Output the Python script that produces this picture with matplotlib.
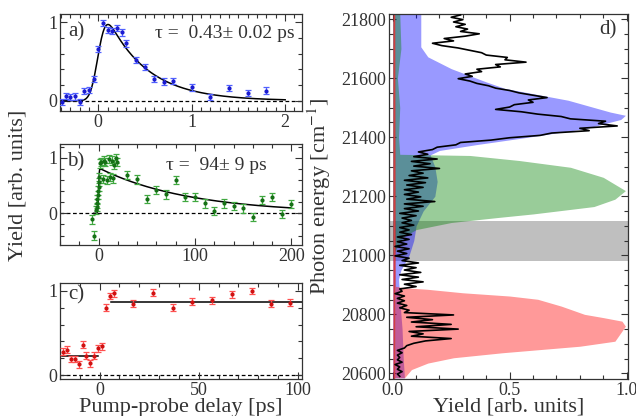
import math
import numpy as np
import matplotlib
matplotlib.use('Agg')
import matplotlib.pyplot as plt
from matplotlib.ticker import MultipleLocator, FormatStrFormatter

plt.rcParams['font.family'] = ['Liberation Serif', 'DejaVu Serif']
plt.rcParams['mathtext.fontset'] = 'stix'

# ---- panel a: fast decay (ps)
a_delay = [-0.39, -0.35, -0.30, -0.25, -0.20, -0.15, -0.10, -0.05, 0.0, 0.05, 0.10,
           0.15, 0.20, 0.25, 0.30, 0.40, 0.50, 0.60, 0.70, 0.80, 1.0, 1.2, 1.4, 1.6, 1.8]
a_yield = [-0.02, 0.06, 0.05, 0.055, -0.02, 0.12, 0.14, 0.28, 0.66, 0.99, 0.90,
           0.89, 0.93, 0.87, 0.73, 0.52, 0.43, 0.28, 0.245, 0.255, 0.17, 0.05, 0.16, 0.10, 0.13]
a_err = 0.04
a_fit = dict(amp=1.32, t0=0.0, sigma=0.065, tau=0.43)

# ---- panel b: slow decay (ps)
b_delay = [-6.5, -4.9, -2.4, -2.0, -1.6, -1.2, -0.8, -0.4, 0.0, 0.4, 0.8,
           1.5, 3.0, 4.5, 5.5, 7.0, 8.5, 10.5, 12.0, 13.5, 15.0, 16.3, 18.0, 19.5,
           30, 40, 50, 60, 70, 80, 90, 100, 110, 120, 130, 140, 150, 160, 170, 180, 190, 200]
b_yield = [-0.11, -0.40, 0.06, 0.12, 0.18, 0.25, 0.33, 0.41, 0.48, 0.57, 0.66,
           0.90, 0.93, 0.62, 0.95, 0.92, 0.60, 0.98, 0.66, 0.95, 0.63, 0.88, 0.99, 0.92,
           0.69, 0.61, 0.26, 0.42, 0.34, 0.60, 0.30, 0.30, 0.18, 0.04, 0.18, 0.13, 0.09,
           -0.06, 0.24, 0.30, -0.01, 0.17]
b_err = 0.075
b_fit = dict(amp=0.82, t0=0.0, sigma=0.6, tau=94.0)

# ---- panel c: step (ps)
c_delay = [-18.6, -16.6, -14.6, -12.6, -10.6, -8.6, -6.7, -4.7, -2.7, -0.6, 1.3,
           3.3, 5.0, 7.0, 17.0, 27.0, 36.9, 46.8, 56.6, 66.6, 76.7, 86.4, 96.2]
c_yield = [0.28, 0.30, 0.19, 0.19, 0.13, 0.36, 0.23, 0.14, 0.23, 0.32, 0.34,
           0.80, 0.94, 0.97, 0.85, 0.98, 0.80, 0.87, 0.89, 0.96, 1.00, 0.85, 0.86]
c_err = 0.04
c_levels = [0.23, 0.87]
c_level_ranges = [(-19.0, -1.0), (5.5, 102.0)]

# ---- panel d: spectrum (cm-1) and excitation profiles
spec_start, spec_step = 20590, 8
spec_yield = [
    0.03, 0.02, 0.04, 0.02, 0.03, 0.01, 0.04, 0.02, 0.03, 0.02, 0.04, 0.02, 0.05,
    0.06, 0.09, 0.14, 0.25, 0.08, 0.13, 0.07, 0.28, 0.10, 0.25, 0.08, 0.17, 0.06,
    0.26, 0.05, 0.07, 0.03, 0.06, 0.02, 0.05, 0.02, 0.05, 0.01, 0.04, 0.03, 0.10,
    0.05, 0.13, 0.04, 0.11, 0.03, 0.12, 0.05, 0.10, 0.03, 0.11, 0.04, 0.07, 0.01,
    0.06, 0.02, 0.07, 0.01, 0.06, 0.02, 0.07, 0.02, 0.08, 0.03, 0.07, 0.03, 0.09,
    0.04, 0.08, 0.04, 0.10, 0.03, 0.11, 0.05, 0.13, 0.05, 0.18, 0.06, 0.12, 0.05,
    0.11, 0.05, 0.13, 0.06, 0.14, 0.05, 0.15, 0.07, 0.13, 0.08, 0.20, 0.09, 0.16,
    0.08, 0.19, 0.09, 0.15, 0.11, 0.17, 0.19, 0.27, 0.29, 0.42, 0.50, 0.63, 0.68,
    0.84, 0.80, 0.96, 0.88, 0.91, 0.76, 0.72, 0.62, 0.55, 0.44, 0.50, 0.52, 0.60,
    0.58, 0.66, 0.60, 0.54, 0.50, 0.44, 0.41, 0.36, 0.33, 0.28, 0.34, 0.31, 0.38,
    0.36, 0.46, 0.44, 0.57, 0.48, 0.49, 0.40, 0.38, 0.33, 0.28, 0.21, 0.17, 0.26,
    0.22, 0.31, 0.37, 0.29, 0.32, 0.27, 0.31, 0.26, 0.30, 0.25, 0.29]

blue_energy = [20585, 20650, 20750, 20850, 20920, 20950, 21000, 21050, 21100, 21150,
               21200, 21250, 21300, 21340, 21355, 21375, 21400, 21430, 21460, 21474,
               21485, 21525, 21565, 21587, 21632, 21672, 21706, 21820]
blue_yield = [0.05, 0.045, 0.04, 0.03, 0.025, 0.035, 0.07, 0.09, 0.10, 0.13,
              0.18, 0.19, 0.18, 0.16, 0.20, 0.36, 0.58, 0.83, 0.975, 0.995,
              0.93, 0.75, 0.48, 0.40, 0.25, 0.15, 0.12, 0.12]

green_energy = [21000, 21060, 21087, 21111, 21128, 21140, 21165, 21190, 21219, 21264,
                21298, 21321, 21338, 21342, 21400, 21500, 21600, 21700, 21820]
green_yield = [0.0, 0.04, 0.10, 0.25, 0.45, 0.60, 0.86, 0.95, 0.995, 0.90,
               0.76, 0.54, 0.33, 0.03, 0.025, 0.03, 0.02, 0.035, 0.03]

red_energy = [20585, 20613, 20635, 20653, 20670, 20692, 20709, 20743, 20760, 20777,
              20789, 20800, 20828, 20851, 20862, 20873, 20885, 20890, 20895, 21820]
red_yield = [0.05, 0.08, 0.15, 0.26, 0.47, 0.80, 0.95, 0.98, 0.995, 0.98,
             0.90, 0.82, 0.72, 0.62, 0.50, 0.30, 0.146, 0.05, 0.012, 0.008]

gray_band = (20980, 21117)

ink = '#333333'


def exp_gauss(t, amp, t0, sigma, tau):
    out = []
    for ti in t:
        dt = ti - t0
        arg = (sigma ** 2 / tau - dt) / (sigma * math.sqrt(2))
        out.append(amp / 2 * math.exp(sigma ** 2 / (2 * tau ** 2) - dt / tau) * math.erfc(arg))
    return np.array(out)


def style_axis(ax, xmaj, xmin, ymaj, ymin):
    ax.xaxis.set_major_locator(MultipleLocator(xmaj))
    ax.xaxis.set_minor_locator(MultipleLocator(xmin))
    ax.yaxis.set_major_locator(MultipleLocator(ymaj))
    ax.yaxis.set_minor_locator(MultipleLocator(ymin))
    ax.tick_params(which='both', direction='in', top=True, right=True,
                   colors=ink, labelsize=13, width=0.8, pad=2)
    ax.tick_params(which='major', length=5)
    ax.tick_params(which='minor', length=3)
    for s in ax.spines.values():
        s.set_color(ink)
        s.set_linewidth(0.9)


def plot_panel(ax, x, y, err, color, ecolor):
    ax.errorbar(x, y, yerr=err, fmt='o', ms=2.0, color=color, ecolor=ecolor,
                elinewidth=0.9, capsize=2.5, capthick=0.9, zorder=3)
    ax.axhline(0, color='black', ls='--', lw=0.9, dashes=(3, 2), zorder=1)


fig = plt.figure(figsize=(6.36, 4.16), dpi=100)

ax_a = fig.add_axes([0.0943, 0.7332, 0.3805, 0.2332])
ax_b = fig.add_axes([0.0943, 0.4111, 0.3805, 0.2428])
ax_c = fig.add_axes([0.0943, 0.0882, 0.3805, 0.2308])
ax_d = fig.add_axes([0.6116, 0.0882, 0.3758, 0.8781])

# panel a
plot_panel(ax_a, a_delay, a_yield, a_err, '#1a1ad0', '#5060ff')
ta = np.linspace(-0.4, 2.0, 300)
ax_a.plot(ta, exp_gauss(ta, **a_fit), color='black', lw=1.1, zorder=2)
ax_a.set_xlim(-0.41, 2.18)
ax_a.set_ylim(-0.13, 1.105)
style_axis(ax_a, 1, 0.1, 1, 0.2)
ax_a.text(0.033, 0.82, 'a)', transform=ax_a.transAxes, fontsize=15, va='center', color=ink)
ax_a.text(0.97, 0.80, 'τ =  0.43± 0.02 ps', transform=ax_a.transAxes, fontsize=14,
          ha='right', va='center', color=ink)

# panel b
plot_panel(ax_b, b_delay, b_yield, b_err, '#157015', '#40a840')
tb = np.linspace(-5, 200, 600)
ax_b.plot(tb, exp_gauss(tb, **b_fit), color='black', lw=1.1, zorder=2)
ax_b.set_xlim(-40, 211)
ax_b.set_ylim(-0.57, 1.25)
style_axis(ax_b, 100, 20, 1, 0.2)
ax_b.text(0.028, 0.82, 'b)', transform=ax_b.transAxes, fontsize=15, va='center', color=ink)
ax_b.text(0.44, 0.79, 'τ =  94± 9 ps', transform=ax_b.transAxes, fontsize=14,
          ha='left', va='center', color=ink)

# panel c
plot_panel(ax_c, c_delay, c_yield, c_err, '#d01010', '#ff5050')
for lev, (x0, x1) in zip(c_levels, c_level_ranges):
    ax_c.plot([x0, x1], [lev, lev], color='black', lw=1.1, zorder=2)
ax_c.set_xlim(-20, 102)
ax_c.set_ylim(-0.05, 1.09)
style_axis(ax_c, 50, 10, 1, 0.2)
ax_c.text(0.035, 0.88, 'c)', transform=ax_c.transAxes, fontsize=15, va='center', color=ink)
ax_c.set_xlabel('Pump-probe delay [ps]', fontsize=16, color=ink, labelpad=-1)

fig.text(0.028, 0.555, 'Yield [arb. units]', rotation=90, fontsize=16, color=ink,
         ha='center', va='center')

# panel d
ax_d.axhspan(*gray_band, color='gray', alpha=0.5, lw=0, zorder=1)
ax_d.fill_betweenx(blue_energy, 0, blue_yield, color='blue', alpha=0.4, lw=0, zorder=2)
ax_d.fill_betweenx(green_energy, 0, green_yield, color='green', alpha=0.4, lw=0, zorder=2)
ax_d.fill_betweenx(red_energy, 0, red_yield, color='red', alpha=0.4, lw=0, zorder=2)
ax_d.axvline(0.006, color='#d04040', lw=1.0, zorder=2)
spec_energy = spec_start + spec_step * np.arange(len(spec_yield))
ax_d.plot(spec_yield, spec_energy, color='black', lw=1.2, zorder=3)
ax_d.set_xlim(-0.016, 1.006)
ax_d.set_ylim(20580, 21817)
style_axis(ax_d, 0.5, 0.1, 200, 50)
ax_d.xaxis.set_major_formatter(FormatStrFormatter('%.1f'))
ax_d.text(0.954, 0.956, 'd)', transform=ax_d.transAxes, fontsize=15, ha='right',
          va='center', color=ink)
ax_d.set_xlabel('Yield [arb. units]', fontsize=16, color=ink, labelpad=-1)
ax_d.set_ylabel('Photon energy [cm$^{-1}$]', fontsize=16, color=ink)
ax_d.yaxis.set_label_coords(-0.235, 0.5)

fig.savefig('out.png', dpi=100)
